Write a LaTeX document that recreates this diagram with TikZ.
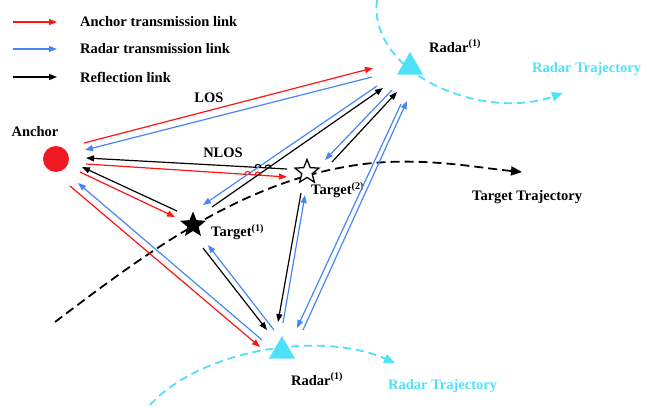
\documentclass[tikz,border=0pt]{standalone}
\usepackage{fontspec}
\setmainfont{Liberation Serif}
\usetikzlibrary{arrows.meta,shapes.geometric,intersections,calc}
\definecolor{lred}{RGB}{255,20,20}
\definecolor{lblue}{RGB}{70,135,245}
\definecolor{lcyan}{RGB}{80,225,250}
\definecolor{ancred}{RGB}{240,25,35}
\begin{document}
\begin{tikzpicture}[x=1pt,y=-1pt,
  link/.style={line width=1.2pt,-{Triangle[length=8pt,width=6pt]}},
  redlink/.style={link,lred},
  bluelink/.style={link,lblue},
  blacklink/.style={link,black},
  traj/.style={line width=1.8pt,-{Triangle[length=11pt,width=9pt]}},
  lbl/.style={font=\bfseries\fontsize{14.5}{16}\selectfont,inner sep=0pt},
  radar/.style={regular polygon,regular polygon sides=3,minimum size=30pt,inner sep=0pt,fill=lcyan},
  hop/.style={line width=1.1pt}]
\useasboundingbox (0,0) rectangle (664,407);

% legend
\coordinate (lg1s) at (13,22); \coordinate (lg1e) at (57,22);
\coordinate (lg2s) at (13,49); \coordinate (lg2e) at (57,49);
\coordinate (lg3s) at (13,77); \coordinate (lg3e) at (57,77);
\draw[redlink] (lg1s) -- (lg1e);
\draw[bluelink] (lg2s) -- (lg2e);
\draw[blacklink] (lg3s) -- (lg3e);
\node[lbl,anchor=west] (lt1) at (80,22) {Anchor transmission link};
\node[lbl,anchor=west] (lt2) at (80,49) {Radar transmission link};
\node[lbl,anchor=west] (lt3) at (80,77) {Reflection link};

% trajectories
\coordinate (tts) at (55,322); \coordinate (ttm) at (373,163); \coordinate (tte) at (522,172);
\draw[traj,black,dash pattern=on 9pt off 5pt] (tts) .. controls (150,250) and (250,175) .. (ttm) .. controls (430,158) and (480,168) .. (tte);
\coordinate (rts) at (377,0); \coordinate (rte) at (563,93);
\draw[traj,lcyan,dash pattern=on 8pt off 5pt] (rts) .. controls (368,72) and (480,122) .. (rte);
\coordinate (rbs) at (150,405); \coordinate (rbe) at (395,363);
\draw[traj,lcyan,dash pattern=on 8pt off 5pt] (rbs) .. controls (200,350) and (320,330) .. (rbe);

% main nodes
\node[circle,fill=ancred,minimum size=26pt,inner sep=0pt] (anchor) at (56,159) {};
\node[radar] (radarT) at (410,67) {};
\node[radar] (radarB) at (282,351) {};
\node[star,star points=5,star point ratio=2.25,minimum size=27pt,inner sep=0pt,fill=black] (tg1) at (193,225) {};
\node[star,star points=5,star point ratio=2.3,minimum size=25pt,inner sep=0pt,draw=black,line width=1.3pt,fill=white] (tg2) at (307,172) {};

% labels
\node[lbl] (anchorlbl) at (35,132) {Anchor};
\node[lbl] (loslbl) at (209,98) {LOS};
\node[lbl] (nloslbl) at (223,153) {NLOS};
\node[lbl,anchor=west] (tg1lbl) at (211,232) {Target\textsuperscript{(1)}};
\node[lbl,anchor=west] (tg2lbl) at (311,190) {Target\textsuperscript{(2)}};
\node[lbl,anchor=west] (rTlbl) at (429,46) {Radar\textsuperscript{(1)}};
\node[lbl,anchor=west] (rBlbl) at (291,379) {Radar\textsuperscript{(1)}};
\node[lbl,anchor=west,text=lcyan] (rTtraj) at (532,69) {Radar Trajectory};
\node[lbl,anchor=west,text=lcyan] (rBtraj) at (388,386) {Radar Trajectory};
\node[lbl,anchor=west] (ttlbl) at (472,197) {Target Trajectory};

% link end points
\coordinate (r1s) at (84,143);  \coordinate (r1e) at (373,68);
\coordinate (b1s) at (372,77);  \coordinate (b1e) at (85,150);
\coordinate (k1s) at (287,169); \coordinate (k1e) at (86,158);
\coordinate (r2s) at (86,164);  \coordinate (r2e) at (287,177);
\coordinate (r3s) at (80,172);  \coordinate (r3e) at (175,217);
\coordinate (k2s) at (177,211); \coordinate (k2e) at (82,167);
\coordinate (r4s) at (70,186);  \coordinate (r4e) at (260,347);
\coordinate (b2s) at (262,340); \coordinate (b2e) at (78,183);
\coordinate (k3s) at (203,248); \coordinate (k3e) at (267,330);
\coordinate (b3s) at (274,330); \coordinate (b3e) at (208,245);
\coordinate (k4s) at (301,193); \coordinate (k4e) at (278,322);
\coordinate (b4s) at (283,323); \coordinate (b4e) at (305,195);
\coordinate (b5s) at (303,330); \coordinate (b5e) at (407,101);
\coordinate (b6s) at (401,104); \coordinate (b6e) at (297,328);
\coordinate (b7s) at (377,86);  \coordinate (b7e) at (203,205);
\coordinate (k5s) at (212,207); \coordinate (k5e) at (383,88);
\coordinate (b8s) at (392,90);  \coordinate (b8e) at (325,160);
\coordinate (k6s) at (332,162); \coordinate (k6e) at (397,92);

% links
\draw[redlink] (r1s) -- (r1e);
\draw[bluelink] (b1s) -- (b1e);
\draw[blacklink,name path=pk1] (k1s) -- (k1e);
\draw[redlink,name path=pr2] (r2s) -- (r2e);
\draw[redlink] (r3s) -- (r3e);
\draw[blacklink] (k2s) -- (k2e);
\draw[redlink] (r4s) -- (r4e);
\draw[bluelink] (b2s) -- (b2e);
\draw[blacklink] (k3s) -- (k3e);
\draw[bluelink] (b3s) -- (b3e);
\draw[blacklink] (k4s) -- (k4e);
\draw[bluelink] (b4s) -- (b4e);
\draw[bluelink] (b5s) -- (b5e);
\draw[bluelink] (b6s) -- (b6e);
\draw[bluelink,name path=pb7] (b7s) -- (b7e);
\draw[blacklink,name path=pk5] (k5s) -- (k5e);
\draw[bluelink] (b8s) -- (b8e);
\draw[blacklink] (k6s) -- (k6e);

% hops
\path[name intersections={of=pk1 and pb7,by=h1}];
\path[name intersections={of=pk1 and pk5,by=h2}];
\path[name intersections={of=pr2 and pb7,by=h3}];
\path[name intersections={of=pr2 and pk5,by=h4}];
\foreach \h/\c in {h1/black,h2/black,h3/lred,h4/lred}{
  \draw[hop,\c] ($(\h)+(-3,0)$) .. controls ($(\h)+(-3,-4)$) and ($(\h)+(3,-4)$) .. ($(\h)+(3,0)$);
}
\end{tikzpicture}
\end{document}
